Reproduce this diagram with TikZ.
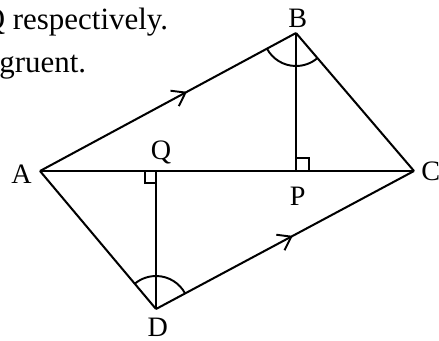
\documentclass[tikz,border=0pt]{standalone}
\usepackage{fontspec}
\setmainfont{Liberation Serif}
\usetikzlibrary{arrows.meta, positioning, calc, decorations.markings}
\tikzset{
  side/.style={line width=1.15pt, line join=miter},
  parmark/.style={postaction={decorate}, decoration={markings,
    mark=at position #1 with {\arrow{Straight Barb[length=7pt, width=10pt, line width=1.1pt]}}}},
  ptlabel/.style={inner sep=1pt, font=\fontsize{16}{19}\selectfont},
  textline/.style={inner sep=0pt, font=\fontsize{17.6}{21}\selectfont},
  sqmark/.style={line width=0.9pt},
  anglearc/.style={line width=1.1pt},
}

\begin{document}
\begin{tikzpicture}
  \useasboundingbox (0,0) rectangle (8.78,6.8);
  % vertices and feet of the perpendiculars
  \coordinate (A) at (0.8,3.38);
  \coordinate (B) at (5.92,6.14);
  \coordinate (C) at (8.28,3.38);
  \coordinate (D) at (3.12,0.62);
  \coordinate (P) at (5.92,3.38);
  \coordinate (Q) at (3.12,3.38);

  \node[textline, anchor=base west] (line1) at (-0.35,6.22) {Q respectively.};
  \node[textline, anchor=base west] (line2) at (-0.02,5.36) {gruent.};

  \draw[side, parmark=0.574] (A) -- (B);
  \draw[side] (B) -- (C);
  \draw[side] (A) -- (D);
  \draw[side, parmark=0.53] (D) -- (C);
  \draw[side] (A) -- (C);
  \draw[side] (B) -- (P);
  \draw[side] (D) -- (Q);

  \draw[sqmark] ($(Q)+(-0.22,0)$) -- ++(0,-0.24) -- ++(0.22,0);
  \draw[sqmark] ($(P)+(0,0.26)$) -- ++(0.26,0) -- ++(0,-0.26);

  \draw[anglearc] ($(B)+(208.3:0.66)$) arc[start angle=208.3, end angle=310.5, radius=0.66];
  \draw[anglearc] ($(D)+(28.1:0.66)$) arc[start angle=28.1, end angle=130, radius=0.66];

  \node[ptlabel, left=3.5pt of A, yshift=-0.06cm] (labA) {A};
  \node[ptlabel, above=1.8pt of B, xshift=1pt] (labB) {B};
  \node[ptlabel, right=3pt of C] (labC) {C};
  \node[ptlabel, below=4pt of D, xshift=1pt] (labD) {D};
  \node[ptlabel, above=2.5pt of Q, xshift=2.8pt] (labQ) {Q};
  \node[ptlabel, below=8pt of P, xshift=1pt] (labP) {P};
\end{tikzpicture}
\end{document}
